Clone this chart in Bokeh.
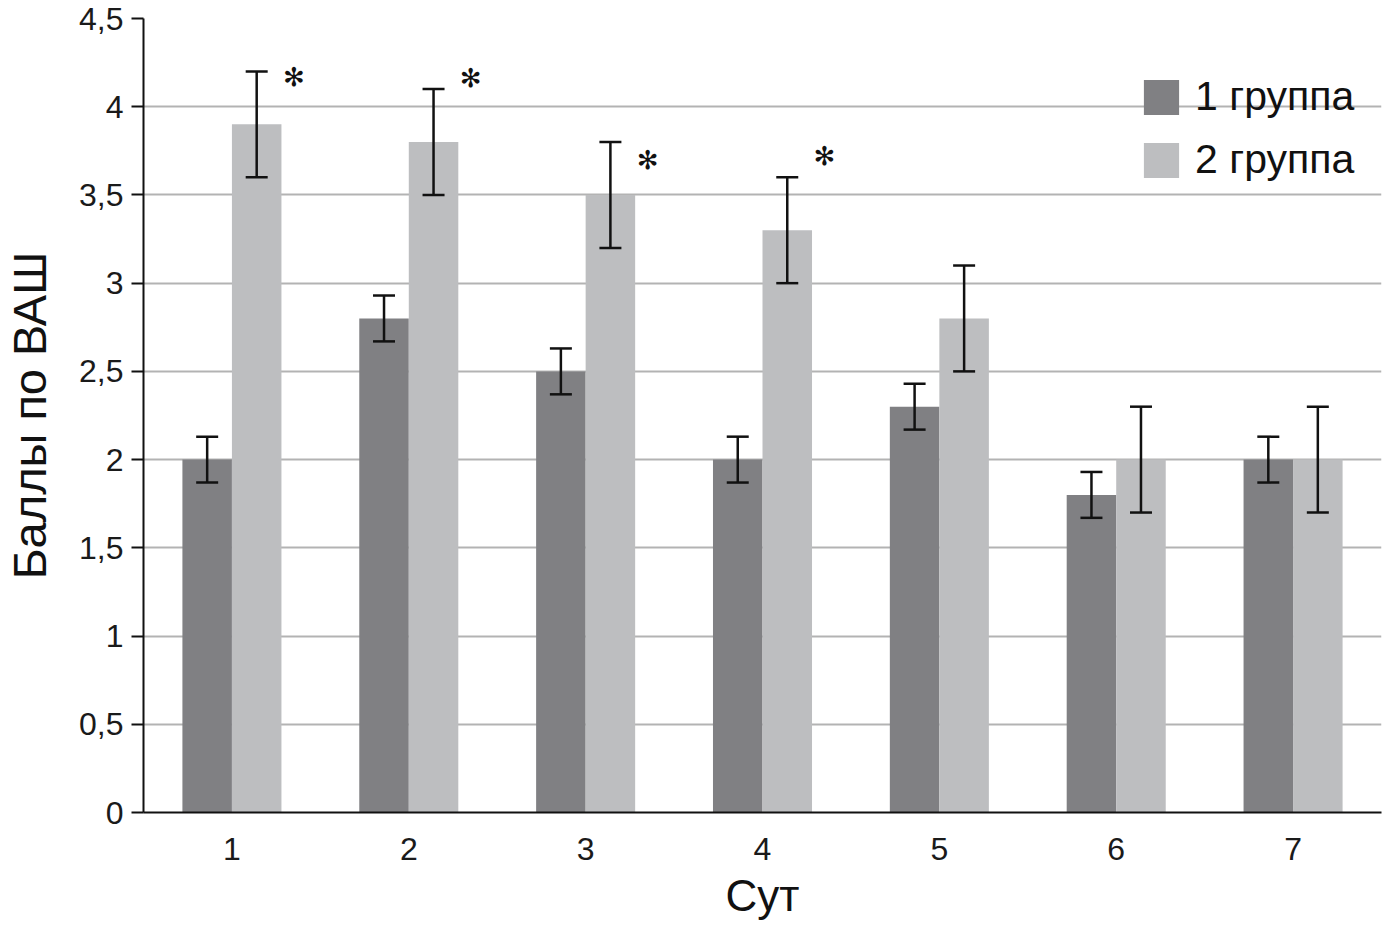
from bokeh.plotting import figure
from bokeh.models import (ColumnDataSource, FactorRange, Range1d, FixedTicker,
                          Whisker, TeeHead, Legend, LegendItem)
from bokeh.transform import dodge
from bokeh.core.properties import value
from bokeh.embed import file_html
from bokeh.resources import INLINE

# ---- data ----
days = ["1", "2", "3", "4", "5", "6", "7"]
group1 = [2.0, 2.8, 2.5, 2.0, 2.3, 1.8, 2.0]
group1_err = [0.13, 0.13, 0.13, 0.13, 0.13, 0.13, 0.13]
group2 = [3.9, 3.8, 3.5, 3.3, 2.8, 2.0, 2.0]
group2_err = [0.3, 0.3, 0.3, 0.3, 0.3, 0.3, 0.3]
series_names = ["1 группа", "2 группа"]
sig_days = ["1", "2", "3", "4"]
sig_y = [4.17, 4.16, 3.70, 3.72]
y_ticks = [0, 0.5, 1, 1.5, 2, 2.5, 3, 3.5, 4, 4.5]
y_tick_labels = ["0", "0,5", "1", "1,5", "2", "2,5", "3", "3,5", "4", "4,5"]

DARK = "#808083"
LIGHT = "#bdbec0"
FONT = "Liberation Sans"

src = ColumnDataSource(dict(
    day=days,
    g1=group1,
    g2=group2,
    g1_lo=[v - e for v, e in zip(group1, group1_err)],
    g1_hi=[v + e for v, e in zip(group1, group1_err)],
    g2_lo=[v - e for v, e in zip(group2, group2_err)],
    g2_hi=[v + e for v, e in zip(group2, group2_err)],
))
sig_src = ColumnDataSource(dict(day=sig_days, y=sig_y, t=["✻"] * len(sig_days)))

p = figure(width=1383, height=928, output_backend="svg", toolbar_location=None,
           x_range=FactorRange(*days, range_padding=0), y_range=Range1d(0, 4.5),
           min_border_left=143, min_border_right=2, min_border_top=18,
           min_border_bottom=116)
p.outline_line_color = None
p.background_fill_color = "white"

r1 = p.vbar(x=dodge("day", -0.14, range=p.x_range), top="g1", width=0.28,
            source=src, fill_color=DARK, line_color=None)
r2 = p.vbar(x=dodge("day", 0.14, range=p.x_range), top="g2", width=0.28,
            source=src, fill_color=LIGHT, line_color=None)

for off, lo, hi in [(-0.14, "g1_lo", "g1_hi"), (0.14, "g2_lo", "g2_hi")]:
    w = Whisker(base=dodge("day", off, range=p.x_range), lower=lo, upper=hi,
                source=src, line_color="#111111", line_width=2.5,
                upper_head=TeeHead(size=22, line_width=2.5, line_color="#111111"),
                lower_head=TeeHead(size=22, line_width=2.5, line_color="#111111"))
    w.level = "overlay"
    p.add_layout(w)

p.text(x=dodge("day", 0.35, range=p.x_range), y="y", text="t", source=sig_src,
       text_font=value("DejaVu Sans"), text_font_size="26px",
       text_align="center", text_baseline="middle", text_color="#111111")

# axes
p.yaxis.ticker = FixedTicker(ticks=y_ticks)
p.yaxis.major_label_overrides = {t: l for t, l in zip(y_ticks, y_tick_labels)}
p.yaxis.axis_label = "Баллы по ВАШ"
p.xaxis.axis_label = "Сут"
for ax in (p.xaxis, p.yaxis):
    ax.axis_line_color = "#111111"
    ax.axis_line_width = 2
    ax.major_label_text_font = FONT
    ax.major_label_text_font_size = "32px"
    ax.major_label_text_color = "#1a1a1a"
    ax.axis_label_text_font = FONT
    ax.axis_label_text_font_style = "normal"
    ax.axis_label_text_color = "#111111"
    ax.minor_tick_line_color = None
p.yaxis.axis_label_text_font_size = "47px"
p.xaxis.axis_label_text_font_size = "44px"
p.yaxis.major_tick_line_color = "#111111"
p.yaxis.major_tick_line_width = 2
p.yaxis.major_tick_out = 12
p.yaxis.major_tick_in = 0
p.yaxis.major_label_standoff = 8
p.yaxis.axis_label_standoff = 20
p.xaxis.major_tick_line_color = None
p.xaxis.major_tick_out = 0
p.xaxis.major_tick_in = 0
p.xaxis.major_label_standoff = 25
p.xaxis.axis_label_standoff = 8

p.xgrid.grid_line_color = None
p.ygrid.grid_line_color = "#b3b3b3"
p.ygrid.grid_line_width = 2

legend = Legend(items=[LegendItem(label=series_names[0], renderers=[r1]),
                       LegendItem(label=series_names[1], renderers=[r2])],
                location=(996, 629), orientation="vertical",
                glyph_width=44, glyph_height=44, label_height=44,
                label_standoff=12, spacing=16, padding=0, margin=0,
                label_text_font=FONT, label_text_font_size="41px",
                label_text_color="#111111",
                background_fill_alpha=0, border_line_alpha=0)
p.add_layout(legend)

open("out.html", "w").write(file_html(p, INLINE))
